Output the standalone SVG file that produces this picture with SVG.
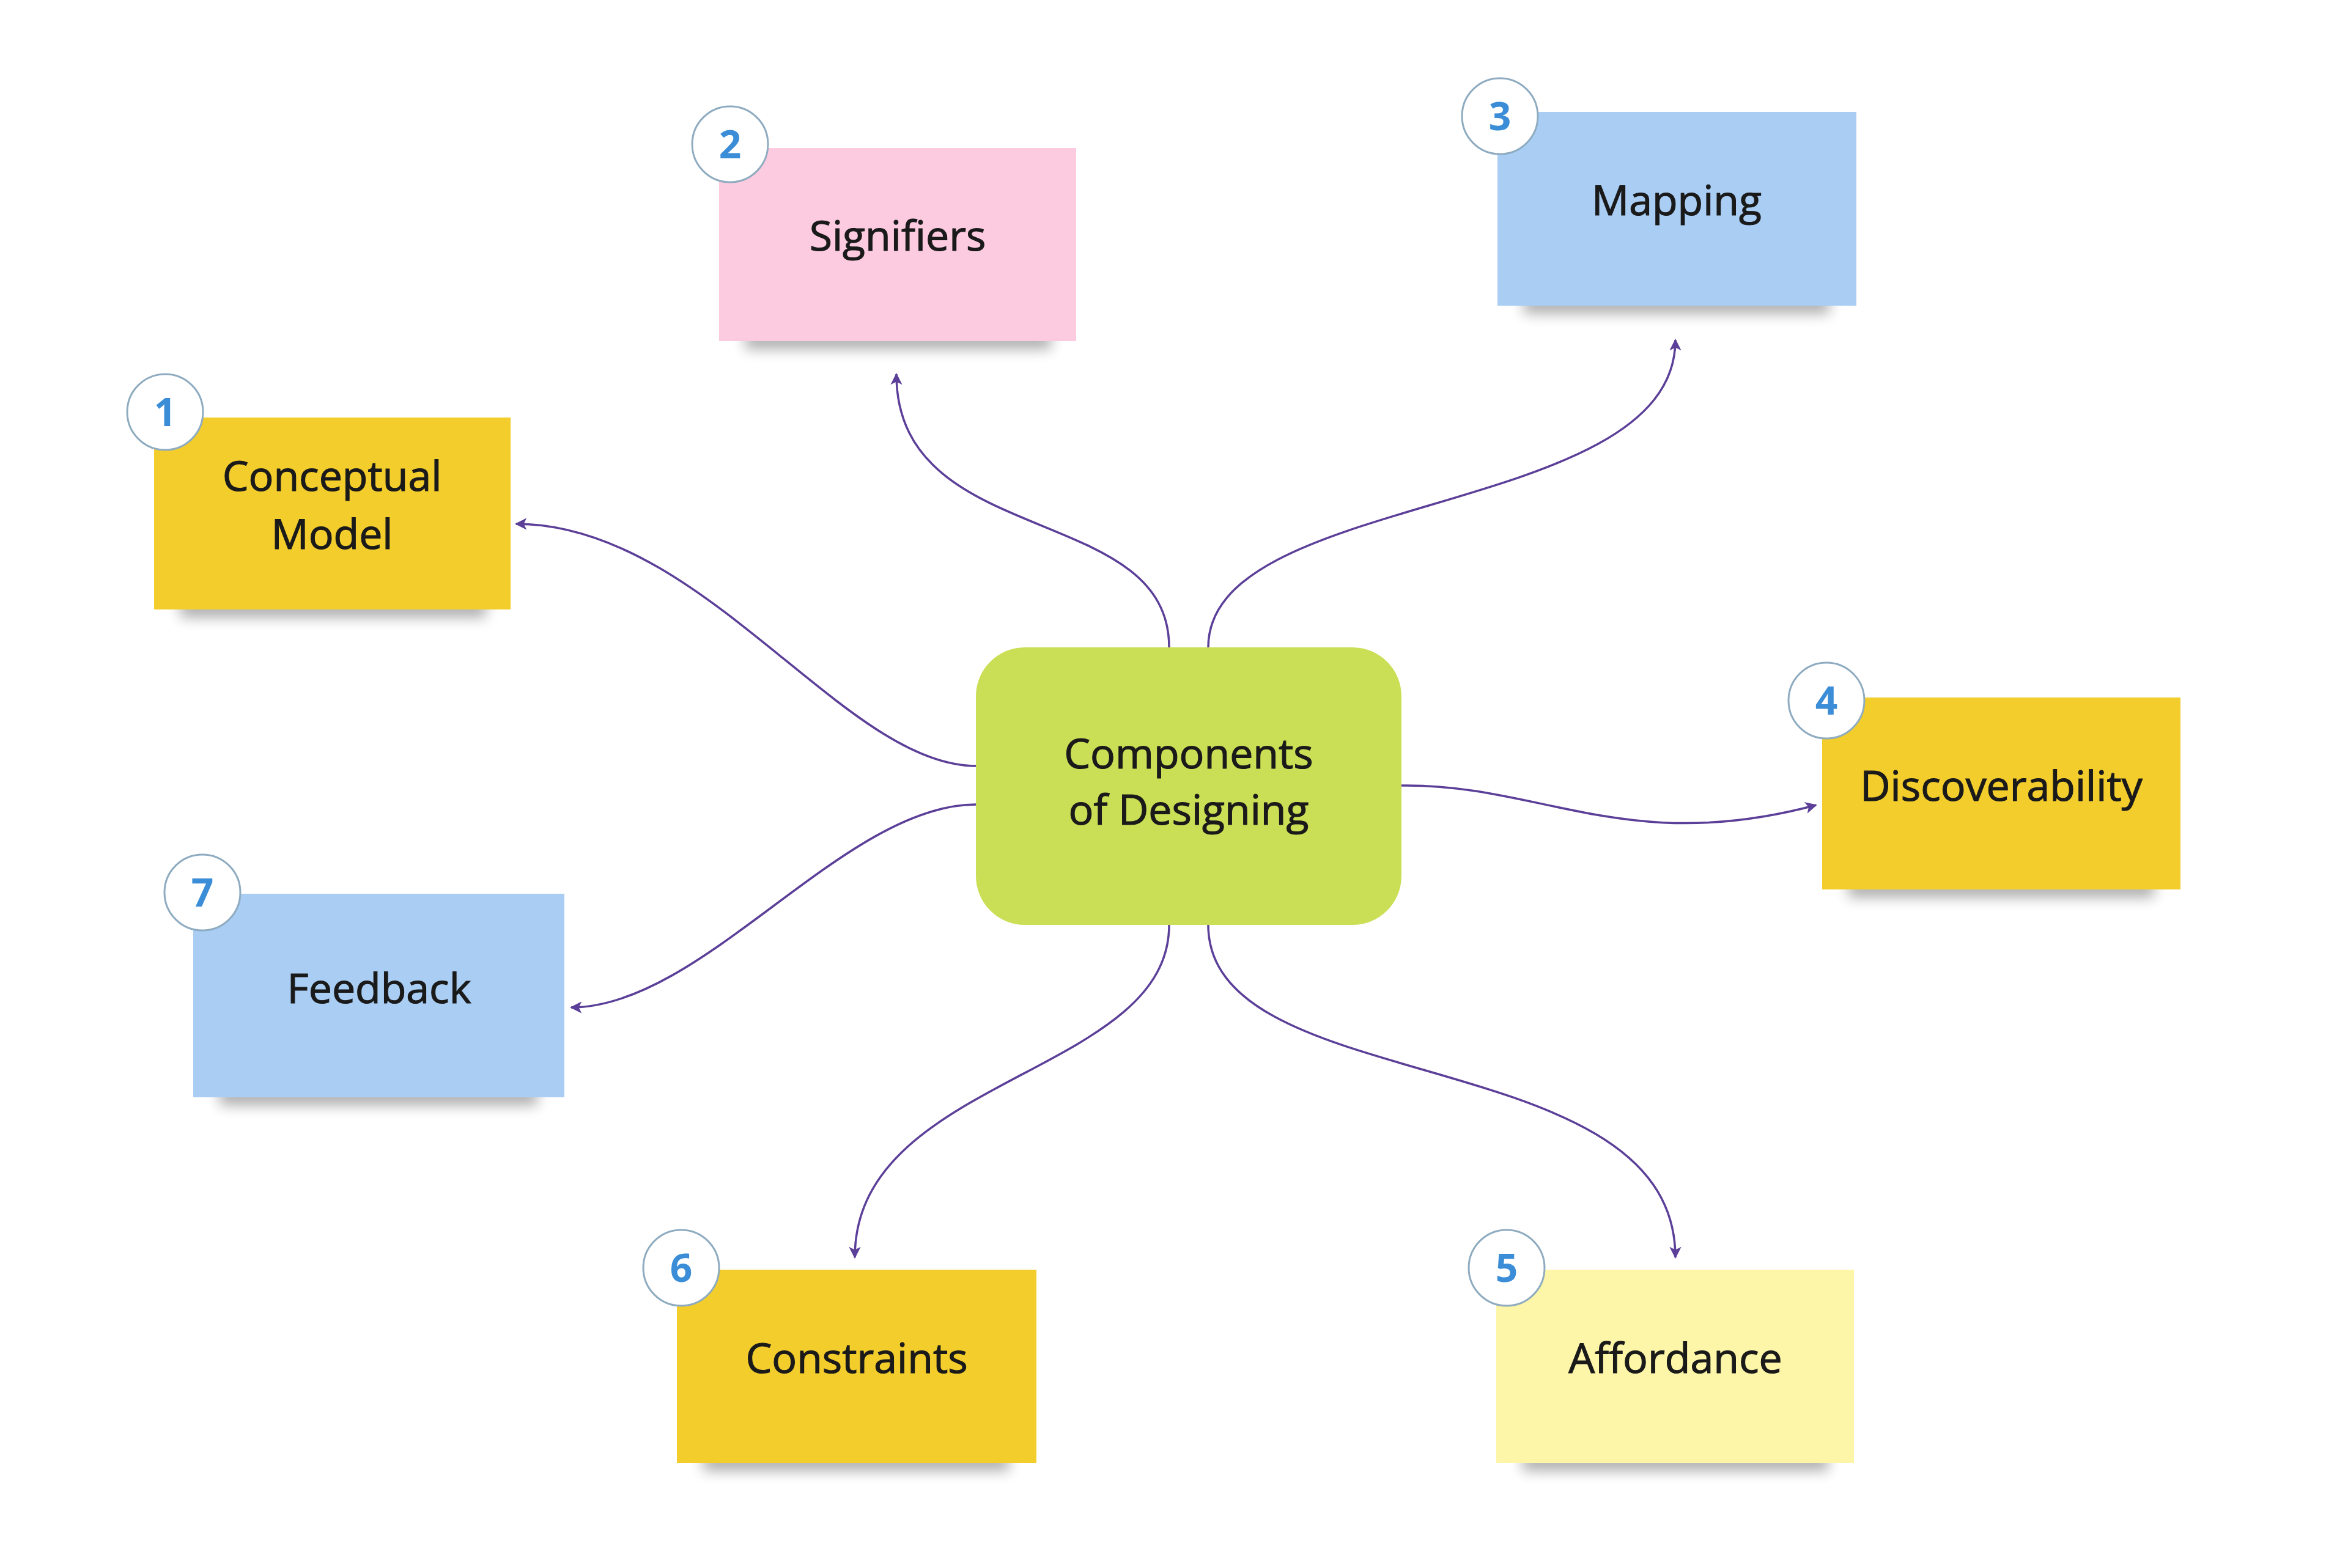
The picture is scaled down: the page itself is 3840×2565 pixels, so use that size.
<svg xmlns="http://www.w3.org/2000/svg" width="3840" height="2565" viewBox="0 0 3840 2565">
<defs>
<style>
.lbl{font-family:"Open Sans","Noto Sans","Liberation Sans",sans-serif;font-size:68px;fill:#1a1a1a;stroke:#1a1a1a;stroke-width:1.2;text-anchor:middle}
.num{font-family:"Open Sans","Noto Sans","Liberation Sans",sans-serif;font-size:64px;font-weight:bold;fill:#3a8dd6;text-anchor:middle}
.badge{fill:#ffffff;stroke:#8eabc0;stroke-width:3}
.shadow{fill:#000000;opacity:0.32;filter:url(#blur)}
.conn{fill:none;stroke:#5b3f98;stroke-width:3.5;marker-end:url(#arrow)}
.yellow{fill:#f3cd2c}
.pink{fill:#fccbe0}
.blue{fill:#a9cdf3}
.lyellow{fill:#fdf5a7}
</style>
<filter id="blur" x="-20%" y="-200%" width="140%" height="500%"><feGaussianBlur stdDeviation="11"/></filter>
<marker id="arrow" viewBox="0 0 10 10" refX="9" refY="5" markerWidth="5.5" markerHeight="5.5" orient="auto" markerUnits="strokeWidth">
<path d="M0,0 L10,5 L0,10 L2.5,5 Z" fill="#5b3f98"/>
</marker>
</defs>
<rect width="3840" height="2565" fill="#ffffff"/>
<g id="connectors">
<path class="conn" d="M1596,1253 C1380,1253 1150,857 844,857"/>
<path class="conn" d="M1596,1316 C1380,1316 1150,1648 934,1648"/>
<path class="conn" d="M1912,1059 C1912,820 1466,900 1466,612"/>
<path class="conn" d="M1976,1059 C1976,800 2740,850 2740,556"/>
<path class="conn" d="M2292,1285 C2520,1282 2660,1400 2970,1317"/>
<path class="conn" d="M1912,1513 C1912,1760 1398,1760 1398,2057"/>
<path class="conn" d="M1976,1513 C1976,1800 2740,1700 2740,2057"/>
</g>
<g id="center">
<rect x="1596" y="1059" width="696" height="454" rx="80" fill="#cadf55"/>
<text class="lbl" x="1944" y="1257">Components</text>
<text class="lbl" x="1944" y="1349">of Designing</text>
</g>
<g id="node1">
<rect class="shadow" x="295" y="980" width="500" height="30"/>
<rect class="yellow" x="252" y="683" width="583" height="314"/>
<text class="lbl" x="543" y="803">Conceptual</text>
<text class="lbl" x="543" y="898">Model</text>
<circle class="badge" cx="270" cy="674" r="62"/>
<text class="num" x="270" y="697">1</text>
</g>
<g id="node2">
<rect class="shadow" x="1219" y="541" width="500" height="30"/>
<rect class="pink" x="1176" y="242" width="584" height="316"/>
<text class="lbl" x="1468" y="410">Signifiers</text>
<circle class="badge" cx="1194" cy="236" r="62"/>
<text class="num" x="1194" y="259">2</text>
</g>
<g id="node3">
<rect class="shadow" x="2492" y="483" width="500" height="30"/>
<rect class="blue" x="2449" y="183" width="587" height="317"/>
<text class="lbl" x="2742" y="352">Mapping</text>
<circle class="badge" cx="2453" cy="190" r="62"/>
<text class="num" x="2453" y="213">3</text>
</g>
<g id="node4">
<rect class="shadow" x="3023" y="1438" width="500" height="30"/>
<rect class="yellow" x="2980" y="1141" width="586" height="314"/>
<text class="lbl" x="3273" y="1310">Discoverability</text>
<circle class="badge" cx="2987" cy="1146" r="62"/>
<text class="num" x="2987" y="1169">4</text>
</g>
<g id="node5">
<rect class="shadow" x="2490" y="2376" width="500" height="30"/>
<rect class="lyellow" x="2447" y="2077" width="585" height="316"/>
<text class="lbl" x="2740" y="2246">Affordance</text>
<circle class="badge" cx="2464" cy="2074" r="62"/>
<text class="num" x="2464" y="2097">5</text>
</g>
<g id="node6">
<rect class="shadow" x="1150" y="2376" width="500" height="30"/>
<rect class="yellow" x="1107" y="2077" width="588" height="316"/>
<text class="lbl" x="1401" y="2246">Constraints</text>
<circle class="badge" cx="1114" cy="2074" r="62"/>
<text class="num" x="1114" y="2097">6</text>
</g>
<g id="node7">
<rect class="shadow" x="359" y="1778" width="520" height="30"/>
<rect class="blue" x="316" y="1462" width="607" height="333"/>
<text class="lbl" x="620" y="1641">Feedback</text>
<circle class="badge" cx="331" cy="1460" r="62"/>
<text class="num" x="331" y="1483">7</text>
</g>
</svg>
